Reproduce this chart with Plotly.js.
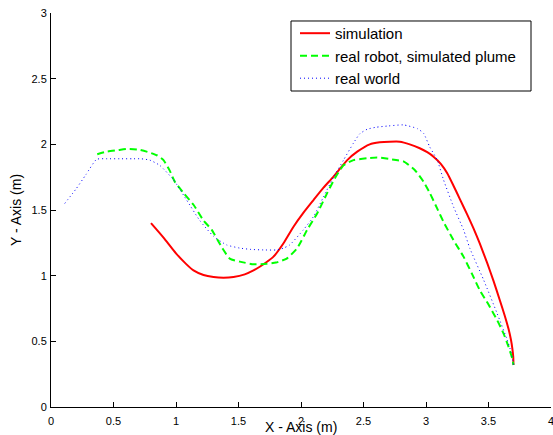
<!DOCTYPE html>
<html>
<head>
<meta charset="utf-8">
<script src="https://cdn.plot.ly/plotly-3.0.1.min.js"></script>
<style>html,body{margin:0;padding:0;background:#fff;}#chart{width:553px;height:435px;}</style>
</head>
<body>
<div id="chart"></div>
<script>
// Series names
const seriesNames = ["simulation", "real robot, simulated plume", "real world"];

// simulation (red solid)
const simX = [0.80,0.90,1.00,1.08,1.14,1.22,1.30,1.38,1.46,1.55,1.62,1.67,1.72,1.78,1.86,1.94,2.02,2.10,2.18,2.26,2.37,2.45,2.55,2.63,2.71,2.79,2.87,2.95,3.01,3.06,3.12,3.17,3.22,3.27,3.33,3.38,3.43,3.49,3.54,3.59,3.63,3.66,3.68,3.69,3.698,3.70];
const simY = [1.40,1.29,1.17,1.09,1.04,1.005,0.99,0.985,0.99,1.01,1.04,1.068,1.10,1.145,1.247,1.373,1.48,1.576,1.67,1.754,1.88,1.944,2.00,2.015,2.02,2.02,2.00,1.97,1.94,1.906,1.85,1.78,1.685,1.585,1.465,1.36,1.245,1.095,0.96,0.815,0.695,0.595,0.51,0.45,0.38,0.32];

// real robot, simulated plume (green dashed)
const robotX = [0.37,0.45,0.53,0.61,0.70,0.79,0.85,0.90,0.95,0.99,1.06,1.14,1.22,1.285,1.37,1.43,1.51,1.62,1.725,1.80,1.886,1.97,2.05,2.13,2.21,2.27,2.34,2.42,2.53,2.61,2.70,2.76,2.82,2.91,2.98,3.03,3.09,3.14,3.22,3.30,3.37,3.43,3.50,3.57,3.62,3.66,3.69,3.70];
const robotY = [1.925,1.945,1.955,1.965,1.96,1.937,1.915,1.88,1.80,1.716,1.63,1.54,1.42,1.35,1.21,1.13,1.107,1.087,1.09,1.10,1.13,1.21,1.35,1.475,1.63,1.74,1.84,1.88,1.894,1.90,1.89,1.88,1.87,1.805,1.716,1.63,1.51,1.41,1.27,1.145,1.01,0.89,0.78,0.66,0.56,0.46,0.37,0.32];

// real world (blue dotted)
const worldX = [0.11,0.20,0.28,0.365,0.45,0.55,0.65,0.72,0.79,0.87,0.98,1.085,1.19,1.30,1.405,1.51,1.60,1.70,1.805,1.86,1.91,2.02,2.10,2.18,2.26,2.34,2.42,2.47,2.53,2.60,2.70,2.82,2.93,2.98,3.03,3.09,3.14,3.22,3.30,3.35,3.46,3.57,3.65,3.68,3.70];
const worldY = [1.55,1.66,1.77,1.886,1.89,1.89,1.89,1.89,1.88,1.84,1.73,1.576,1.42,1.30,1.234,1.21,1.20,1.196,1.196,1.21,1.234,1.35,1.45,1.60,1.75,1.88,2.01,2.08,2.115,2.13,2.14,2.148,2.12,2.085,1.98,1.88,1.73,1.525,1.35,1.21,0.97,0.71,0.51,0.42,0.32];

// Tick values / labels
const xTicks = [0,0.5,1,1.5,2,2.5,3,3.5,4];
const xTickText = ["0","0.5","1","1.5","2","2.5","3","3.5","4"];
const yTicks = [0,0.5,1,1.5,2,2.5,3];
const yTickText = ["0","0.5","1","1.5","2","2.5","3"];

const FONT = "Liberation Sans, Arial, Helvetica, sans-serif";

const traces = [
  {x: simX, y: simY, name: seriesNames[0], mode: "lines",
   line: {color: "rgb(255,0,0)", width: 2, shape: "spline", smoothing: 0.5}},
  {x: robotX, y: robotY, name: seriesNames[1], mode: "lines",
   line: {color: "rgb(0,255,0)", width: 2, dash: "7px,4px", shape: "spline", smoothing: 0.5}},
  {x: worldX, y: worldY, name: seriesNames[2], mode: "lines",
   line: {color: "rgb(0,0,255)", width: 1, dash: "1px,3px", shape: "spline", smoothing: 0.5}}
];

const axisCommon = {
  showgrid: false, zeroline: false, showline: true, linecolor: "#000", linewidth: 1,
  ticks: "inside", ticklen: 5, tickwidth: 1, tickcolor: "#000",
  tickfont: {family: FONT, size: 11, color: "#000"}, mirror: false, tickmode: "array",
  ticklabeloverflow: "allow"
};

const layout = {
  width: 553, height: 435,
  margin: {l: 51, r: 2, t: 13, b: 28, pad: 0},
  paper_bgcolor: "#fff", plot_bgcolor: "#fff",
  font: {family: FONT, color: "#000"},
  showlegend: true,
  legend: {
    x: 0.488, y: 0.99, xanchor: "left", yanchor: "top",
    borderwidth: 0, bgcolor: "rgba(0,0,0,0)",
    font: {family: FONT, size: 15, color: "#000"}
  },
  shapes: [
    {type: "rect", xref: "paper", yref: "paper", x0: 0.48, x1: 0.96, y0: 0.802, y1: 0.9797,
     line: {color: "#000", width: 1}, fillcolor: "rgba(255,255,255,0)", layer: "below"}
  ],
  xaxis: Object.assign({}, axisCommon, {
    range: [0, 4], tickvals: xTicks, ticktext: xTickText, ticklabelstandoff: 4
  }),
  yaxis: Object.assign({}, axisCommon, {
    range: [0, 3], tickvals: yTicks, ticktext: yTickText, ticklabelstandoff: 1,
    title: {text: "Y - Axis (m)", font: {family: FONT, size: 14, color: "#000"}, standoff: 6}
  }),
  annotations: [
    {text: "X - Axis (m)", xref: "paper", yref: "paper", x: 0.5, y: 0,
     xanchor: "center", yanchor: "middle", yshift: -20, showarrow: false,
     font: {family: FONT, size: 14, color: "#000"}}
  ]
};

Plotly.newPlot("chart", traces, layout, {staticPlot: true, displayModeBar: false});
</script>
</body>
</html>
